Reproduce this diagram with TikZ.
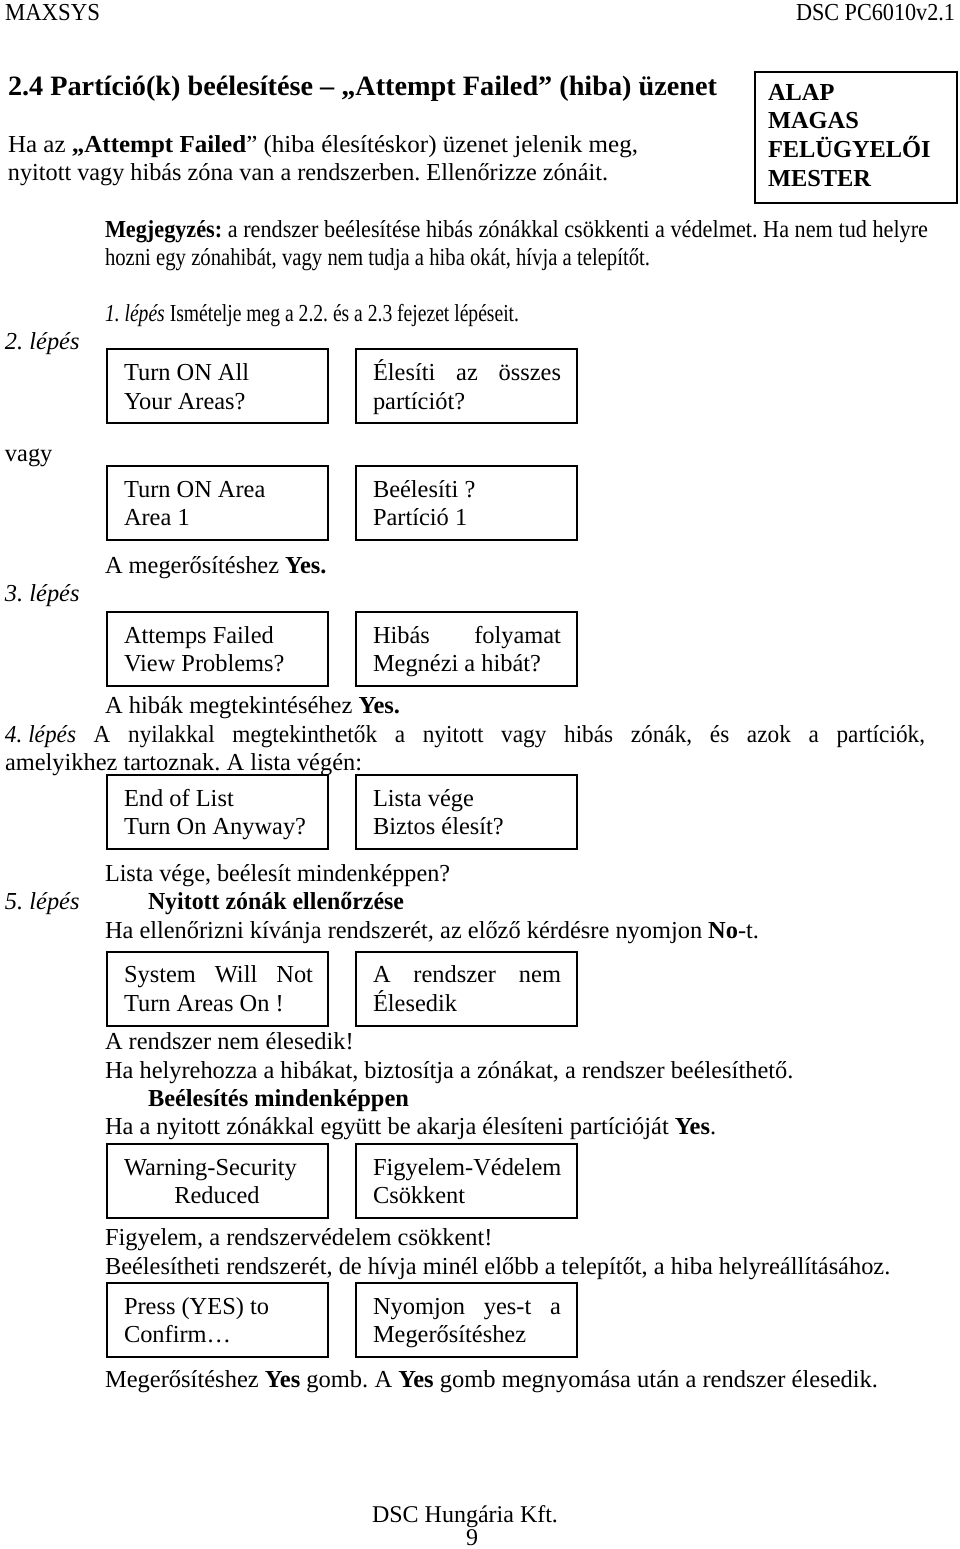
\documentclass[tikz,border=0pt]{standalone}
\usepackage{fontspec}
\setmainfont{Liberation Serif}
\usepackage{graphicx}
\frenchspacing
\newcommand\fitto[2]{\resizebox{#1pt}{\height}{#2}}
\newcommand\justto[2]{\makebox[#1pt][s]{#2}}
\begin{document}
\begin{tikzpicture}[x=1pt,y=-1pt,
  every node/.style={inner sep=0pt, outer sep=0pt, anchor=base west, font=\fontsize{24.4}{28}\selectfont\frenchspacing},
  bold/.style={font=\fontsize{24.4}{28}\selectfont\bfseries\frenchspacing},
  box/.style={draw, line width=1.6pt, minimum width=221pt, minimum height=74pt, anchor=north west},
  centred/.style={anchor=base}]
\useasboundingbox (0,0) rectangle (960,1549);
\fill[white] (0,0) rectangle (960,1549);
% header
\node (hl) at (5,21) {\fitto{95}{MAXSYS}};
\node (hr) at (796,21) {\fitto{159}{DSC PC6010v2.1}};
% heading
\node[font=\fontsize{28}{32}\selectfont\bfseries\frenchspacing] (head) at (8,96) {\fitto{709}{2.4 Partíció(k) beélesítése – „Attempt Failed” (hiba) üzenet}};
\node (p1) at (8,153) {\fitto{630}{Ha az \textbf{„Attempt Failed}” (hiba élesítéskor) üzenet jelenik meg,}};
\node (p2) at (8,180) {\fitto{600}{nyitott vagy hibás zóna van a rendszerben. Ellenőrizze zónáit.}};
% level box
\node[draw, line width=1.6pt, minimum width=202pt, minimum height=131pt, anchor=north west] (lvl) at (755,72) {};
\node[bold] (l1) at (768,101) {ALAP};
\node[bold] (l2) at (768,129) {MAGAS};
\node[bold] (l3) at (768,158) {FELÜGYELŐI};
\node[bold] (l4) at (768,187) {MESTER};
% note
\node (n1) at (105,237) {\fitto{823}{\textbf{Megjegyzés:} a rendszer beélesítése hibás zónákkal csökkenti a védelmet. Ha nem tud helyre}};
\node (n2) at (105,265) {\fitto{545}{hozni egy zónahibát, vagy nem tudja a hiba okát, hívja a telepítőt.}};
\node (s1) at (105,321) {\fitto{414}{\textit{1. lépés} Ismételje meg a 2.2. és a 2.3 fejezet lépéseit.}};
\node (s2) at (5,349) {\textit{2. lépés}};
% boxes 1-2
\node[box] (b1) at (107,349) {};
\node[box] (b2) at (356,349) {};
\node (b1a) at (124,380) {Turn ON All};
\node (b1b) at (124,409) {Your Areas?};
\node (b2a) at (373,380) {\justto{188}{Élesíti az összes}};
\node (b2b) at (373,409) {partíciót?};
\node (vagy) at (5,461) {vagy};
% boxes 3-4
\node[box] (b3) at (107,466) {};
\node[box] (b4) at (356,466) {};
\node (b3a) at (124,497) {Turn ON Area};
\node (b3b) at (124,525) {Area 1};
\node (b4a) at (373,497) {Beélesíti ?};
\node (b4b) at (373,525) {Partíció 1};
\node (conf) at (105,573) {A megerősítéshez \textbf{Yes.}};
\node (s3) at (5,601) {\textit{3. lépés}};
% boxes 5-6
\node[box] (b5) at (107,612) {};
\node[box] (b6) at (356,612) {};
\node (b5a) at (124,643) {Attemps Failed};
\node (b5b) at (124,671) {View Problems?};
\node (b6a) at (373,643) {\justto{188}{Hibás folyamat}};
\node (b6b) at (373,671) {Megnézi a hibát?};
\node (view) at (105,713) {\fitto{295}{A hibák megtekintéséhez \textbf{Yes.}}};
\node (s4) at (5,742) {\fitto{920}{\justto{965}{\mbox{\textit{4. lépés}} A nyilakkal megtekinthetők a nyitott vagy hibás zónák, és azok a partíciók,}}};
\node (s4b) at (5,770) {\fitto{357}{amelyikhez tartoznak. A lista végén:}};
% boxes 7-8
\node[box] (b7) at (107,775) {};
\node[box] (b8) at (356,775) {};
\node (b7a) at (124,806) {End of List};
\node (b7b) at (124,834) {Turn On Anyway?};
\node (b8a) at (373,806) {Lista vége};
\node (b8b) at (373,834) {Biztos élesít?};
\node (lv) at (105,881) {\fitto{345}{Lista vége, beélesít mindenképpen?}};
\node (s5) at (5,909) {\textit{5. lépés}};
\node[bold] (s5t) at (148,909) {\fitto{256}{Nyitott zónák ellenőrzése}};
\node (chk) at (105,938) {\fitto{654}{Ha ellenőrizni kívánja rendszerét, az előző kérdésre nyomjon \textbf{No}-t.}};
% boxes 9-10
\node[box] (b9) at (107,952) {};
\node[box] (b10) at (356,952) {};
\node (b9a) at (124,982) {\justto{189}{System Will Not}};
\node (b9b) at (124,1011) {Turn Areas On !};
\node (b10a) at (373,982) {\justto{188}{A rendszer nem}};
\node (b10b) at (373,1011) {Élesedik};
\node (ne) at (105,1049) {A rendszer nem élesedik!};
\node (fix) at (105,1078) {Ha helyrehozza a hibákat, biztosítja a zónákat, a rendszer beélesíthető.};
\node[bold] (anyw) at (148,1106) {Beélesítés mindenképpen};
\node (open) at (105,1134) {Ha a nyitott zónákkal együtt be akarja élesíteni partícióját \textbf{Yes}.};
% boxes 11-12
\node[box] (b11) at (107,1144) {};
\node[box] (b12) at (356,1144) {};
\node (b11a) at (124,1175) {Warning-Security};
\node[centred] (b11b) at (217,1203) {Reduced};
\node (b12a) at (373,1175) {Figyelem-Védelem};
\node (b12b) at (373,1203) {Csökkent};
\node (warn) at (105,1245) {Figyelem, a rendszervédelem csökkent!};
\node (call) at (105,1274) {Beélesítheti rendszerét, de hívja minél előbb a telepítőt, a hiba helyreállításához.};
% boxes 13-14
\node[box] (b13) at (107,1283) {};
\node[box] (b14) at (356,1283) {};
\node (b13a) at (124,1314) {Press (YES) to};
\node (b13b) at (124,1342) {Confirm…};
\node (b14a) at (373,1314) {\justto{188}{Nyomjon yes-t a}};
\node (b14b) at (373,1342) {Megerősítéshez};
\node (fin) at (105,1387) {\fitto{773}{Megerősítéshez \textbf{Yes} gomb. A \textbf{Yes} gomb megnyomása után a rendszer élesedik.}};
% footer
\node[centred, font=\fontsize{24}{28}\selectfont] (f1) at (465,1522) {DSC Hungária Kft.};
\node[centred, font=\fontsize{24}{28}\selectfont] (f2) at (472,1545) {9};
\end{tikzpicture}
\end{document}
